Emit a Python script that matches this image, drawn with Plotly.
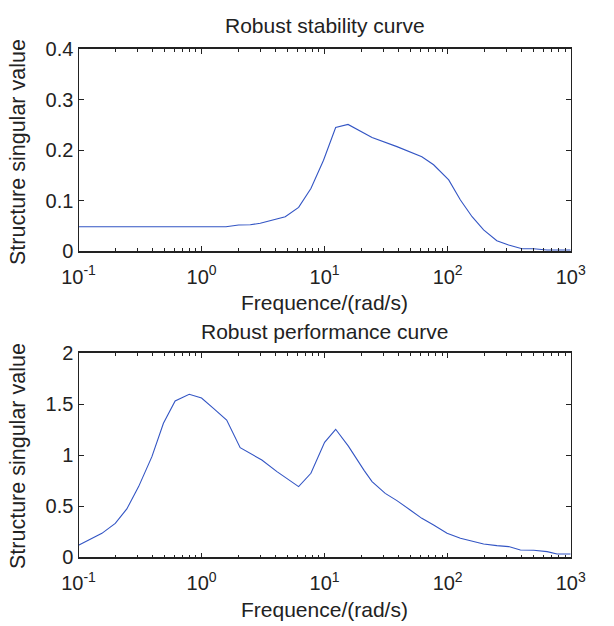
import plotly.graph_objects as go

# Robust stability curve data
freq_rs = [0.1, 1.58, 2.0, 2.49, 3.0, 4.79, 6.15, 7.74, 9.8, 12.3, 15.5, 24.3, 38.7, 49.6, 61.7, 76.9, 102, 127, 158, 196, 251, 313, 402, 500, 643, 1000]
mu_rs = [0.048, 0.048, 0.0516, 0.052, 0.055, 0.068, 0.0866, 0.124, 0.18, 0.245, 0.251, 0.225, 0.207, 0.197, 0.187, 0.171, 0.141, 0.101, 0.068, 0.042, 0.0205, 0.012, 0.0046, 0.0046, 0.002, 0.002]

# Robust performance curve data
freq_rp = [0.1, 0.155, 0.199, 0.247, 0.308, 0.395, 0.49, 0.61, 0.794, 1.0, 1.25, 1.6, 2.06, 3.09, 4.1, 6.15, 7.74, 10, 12.3, 15.6, 21, 24.3, 31.1, 38.7, 49.6, 61.7, 76.9, 98.9, 127, 196, 251, 313, 390, 500, 643, 775, 1000]
mu_rp = [0.118, 0.235, 0.333, 0.474, 0.693, 0.987, 1.314, 1.533, 1.598, 1.562, 1.46, 1.346, 1.075, 0.954, 0.84, 0.693, 0.824, 1.127, 1.255, 1.09, 0.85, 0.742, 0.627, 0.556, 0.464, 0.382, 0.317, 0.235, 0.186, 0.131, 0.114, 0.105, 0.072, 0.069, 0.056, 0.033, 0.033]

xtick_vals = [0.1, 1, 10, 100, 1000]
xtick_text = ["10<sup>-1</sup>", "10<sup>0</sup>", "10<sup>1</sup>", "10<sup>2</sup>", "10<sup>3</sup>"]
ytick_rs = [0, 0.1, 0.2, 0.3, 0.4]
ytext_rs = ["0", "0.1", "0.2", "0.3", "0.4"]
ytick_rp = [0, 0.5, 1, 1.5, 2]
ytext_rp = ["0", "0.5", "1", "1.5", "2"]

W, H = 614, 626
FONT = "Liberation Sans, Arial, Helvetica, sans-serif"
LINE = "#3355C4"
INK = "#222222"

fig = go.Figure()
fig.add_trace(go.Scatter(x=freq_rs, y=mu_rs, mode="lines", line=dict(color=LINE, width=1.1),
                         xaxis="x", yaxis="y", showlegend=False))
fig.add_trace(go.Scatter(x=freq_rp, y=mu_rp, mode="lines", line=dict(color=LINE, width=1.1),
                         xaxis="x2", yaxis="y2", showlegend=False))

xd = [78.5 / W, 570.7 / W]
top_d = [(H - 251) / H, (H - 49.3) / H]
bot_d = [(H - 557.3) / H, (H - 353.3) / H]

def xaxis(anchor):
    return dict(type="log", range=[-1, 3], domain=xd, anchor=anchor, automargin=False,
                tickvals=xtick_vals, ticktext=xtick_text, ticklabelstandoff=7,
                ticks="inside", ticklen=5, tickcolor=INK, tickwidth=1,
                minor=dict(ticks="inside", ticklen=3, tickcolor=INK,
                           dtick="D1", showgrid=False),
                showline=True, linecolor=INK, linewidth=1.5, mirror="allticks",
                showgrid=False, zeroline=False,
                tickfont=dict(family=FONT, size=20, color=INK))

def yaxis(anchor, dom, rng, vals, text):
    return dict(range=rng, domain=dom, anchor=anchor, automargin=False,
                tickvals=vals, ticktext=text,
                ticks="inside", ticklen=5, tickcolor=INK, tickwidth=1,
                showline=True, linecolor=INK, linewidth=1.2, mirror="allticks",
                showgrid=False, zeroline=False,
                tickfont=dict(family=FONT, size=20, color=INK))

fig.update_layout(
    template="none",
    width=W, height=H, margin=dict(l=0, r=0, t=0, b=0, pad=0),
    paper_bgcolor="white", plot_bgcolor="white",
    xaxis=xaxis("y"), yaxis=yaxis("x", top_d, [0, 0.4], ytick_rs, ytext_rs),
    xaxis2=xaxis("y2"), yaxis2=yaxis("x2", bot_d, [0, 2], ytick_rp, ytext_rp),
    font=dict(family=FONT, color=INK),
)

cx = (xd[0] + xd[1]) / 2
ann = [
    dict(text="Robust stability curve", x=cx, y=(H - 25) / H, size=21),
    dict(text="Frequence/(rad/s)", x=cx, y=(H - 302) / H, size=21),
    dict(text="Robust performance curve", x=cx, y=(H - 331) / H, size=21),
    dict(text="Frequence/(rad/s)", x=cx, y=(H - 609) / H, size=21),
]
for a in ann:
    fig.add_annotation(text=a["text"], x=a["x"], y=a["y"], xref="paper", yref="paper",
                       showarrow=False, xanchor="center", yanchor="middle",
                       font=dict(family=FONT, size=a["size"], color=INK))
for yc in [(H - 152) / H, (H - 456) / H]:
    fig.add_annotation(text="Structure singular value", x=18 / W, y=yc, xref="paper", yref="paper",
                       showarrow=False, xanchor="center", yanchor="middle", textangle=-90,
                       font=dict(family=FONT, size=21.5, color=INK))

fig.write_html("out.html")
